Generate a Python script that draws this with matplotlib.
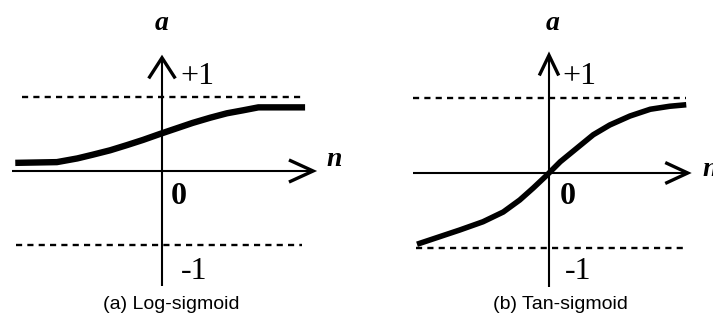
import matplotlib
matplotlib.use("Agg")
import matplotlib.pyplot as plt

# curve points (n, a) for each transfer function
logsig_n = [-2.01, -1.44, -1.16, -0.95, -0.71, -0.48, -0.26, -0.03, 0.21, 0.42,
            0.66, 0.89, 1.11, 1.32, 1.96]
logsig_a = [0.11, 0.12, 0.17, 0.22, 0.28, 0.35, 0.42, 0.50, 0.58, 0.65,
            0.72, 0.78, 0.82, 0.86, 0.86]

tansig_n = [-1.76, -1.49, -1.19, -0.88, -0.61, -0.39, -0.21, -0.03, 0.15, 0.37,
            0.59, 0.81, 1.08, 1.35, 1.61, 1.83]
tansig_a = [-0.95, -0.86, -0.76, -0.65, -0.52, -0.36, -0.20, -0.03, 0.15, 0.33,
            0.51, 0.64, 0.76, 0.85, 0.89, 0.91]

captions = ["(a) Log-sigmoid", "(b) Tan-sigmoid"]
level_labels = ["+1", "0", "-1"]

W, H = 713, 322
fig = plt.figure(figsize=(W / 100, H / 100), dpi=100)
fig.patch.set_facecolor("white")

serif = "Liberation Serif"
sans = "Liberation Sans"


def make_panel(x0, x1, origin, scale):
    # axes spanning pixel columns x0..x1, with (0,0) at origin and equal px/unit
    ox, oy = origin
    ax = fig.add_axes([x0 / W, 0, (x1 - x0) / W, 1])
    ax.set_xlim((x0 - ox) / scale[0], (x1 - ox) / scale[0])
    ax.set_ylim((oy - H) / scale[1], oy / scale[1])
    ax.axis("off")
    return ax


def draw_panel(ax, n, a, cfg):
    k = dict(color="black", solid_capstyle="butt")
    # axes lines
    ax.plot(cfg["haxis"], [0, 0], lw=1.5, **k)
    ax.plot([0, 0], cfg["vaxis"], lw=1.5, **k)
    # arrow heads
    tip = cfg["haxis"][1]
    ax.plot([cfg["harm"][0], tip, cfg["harm"][0]], [cfg["harm"][1], 0, -cfg["harm"][1]],
            lw=2.4, color="black", solid_joinstyle="miter")
    top = cfg["vaxis"][1]
    ax.plot([-cfg["varm"][0], 0, cfg["varm"][0]], [cfg["varm"][1], top, cfg["varm"][1]],
            lw=2.4, color="black", solid_joinstyle="miter")
    # +1 / -1 bounds
    ax.plot(cfg["upper"], [1, 1], lw=1.7, color="black", ls=(0, (2.6, 2.2)))
    ax.plot(cfg["lower"], [-1, -1], lw=1.7, color="black", ls=(0, (2.6, 2.2)))
    # transfer function
    ax.plot(n, a, lw=cfg["curve_lw"], color="black", solid_capstyle="butt",
            solid_joinstyle="round")

    ax.text(*cfg["a_pos"], "a", family=serif, style="italic", weight="bold",
            fontsize=20, ha="center", va="center")
    ax.text(*cfg["n_pos"], "n", family=serif, style="italic", weight="bold",
            fontsize=20, ha=cfg["n_ha"], va="center")
    ax.text(*cfg["p1_pos"], level_labels[0], family=serif, fontsize=23,
            ha="center", va="center")
    ax.text(*cfg["z_pos"], level_labels[1], family=serif, weight="bold",
            fontsize=23, ha="center", va="center")
    ax.text(*cfg["m1_pos"], level_labels[2], family=serif, fontsize=23,
            ha="center", va="center")
    ax.text(*cfg["cap_pos"], cfg["caption"], family=sans, fontsize=14,
            ha="center", va="center")


left = make_panel(0, 356, (162, 171), (73, 74))
draw_panel(left, logsig_n, logsig_a, dict(
    haxis=[-2.05, 2.07], vaxis=[-1.55, 1.53],
    harm=(1.76, 0.14), varm=(0.17, 1.27),
    upper=[-1.92, 1.93], lower=[-2.0, 1.92],
    curve_lw=4.6,
    a_pos=(0.0, 1.99), n_pos=(2.36, 0.15), n_ha="center",
    p1_pos=(0.48, 1.28), z_pos=(0.23, -0.34), m1_pos=(0.44, -1.36),
    cap_pos=(0.13, -1.80), caption=captions[0],
))

right = make_panel(356, 713, (549, 173), (75, 75))
draw_panel(right, tansig_n, tansig_a, dict(
    haxis=[-1.81, 1.85], vaxis=[-1.52, 1.57],
    harm=(1.57, 0.13), varm=(0.12, 1.32),
    upper=[-1.81, 1.83], lower=[-1.77, 1.83],
    curve_lw=4.0,
    a_pos=(0.05, 2.0), n_pos=(2.05, 0.05), n_ha="left",
    p1_pos=(0.41, 1.28), z_pos=(0.25, -0.31), m1_pos=(0.39, -1.31),
    cap_pos=(0.15, -1.75), caption=captions[1],
))

fig.savefig("out.png", dpi=100, facecolor="white")
